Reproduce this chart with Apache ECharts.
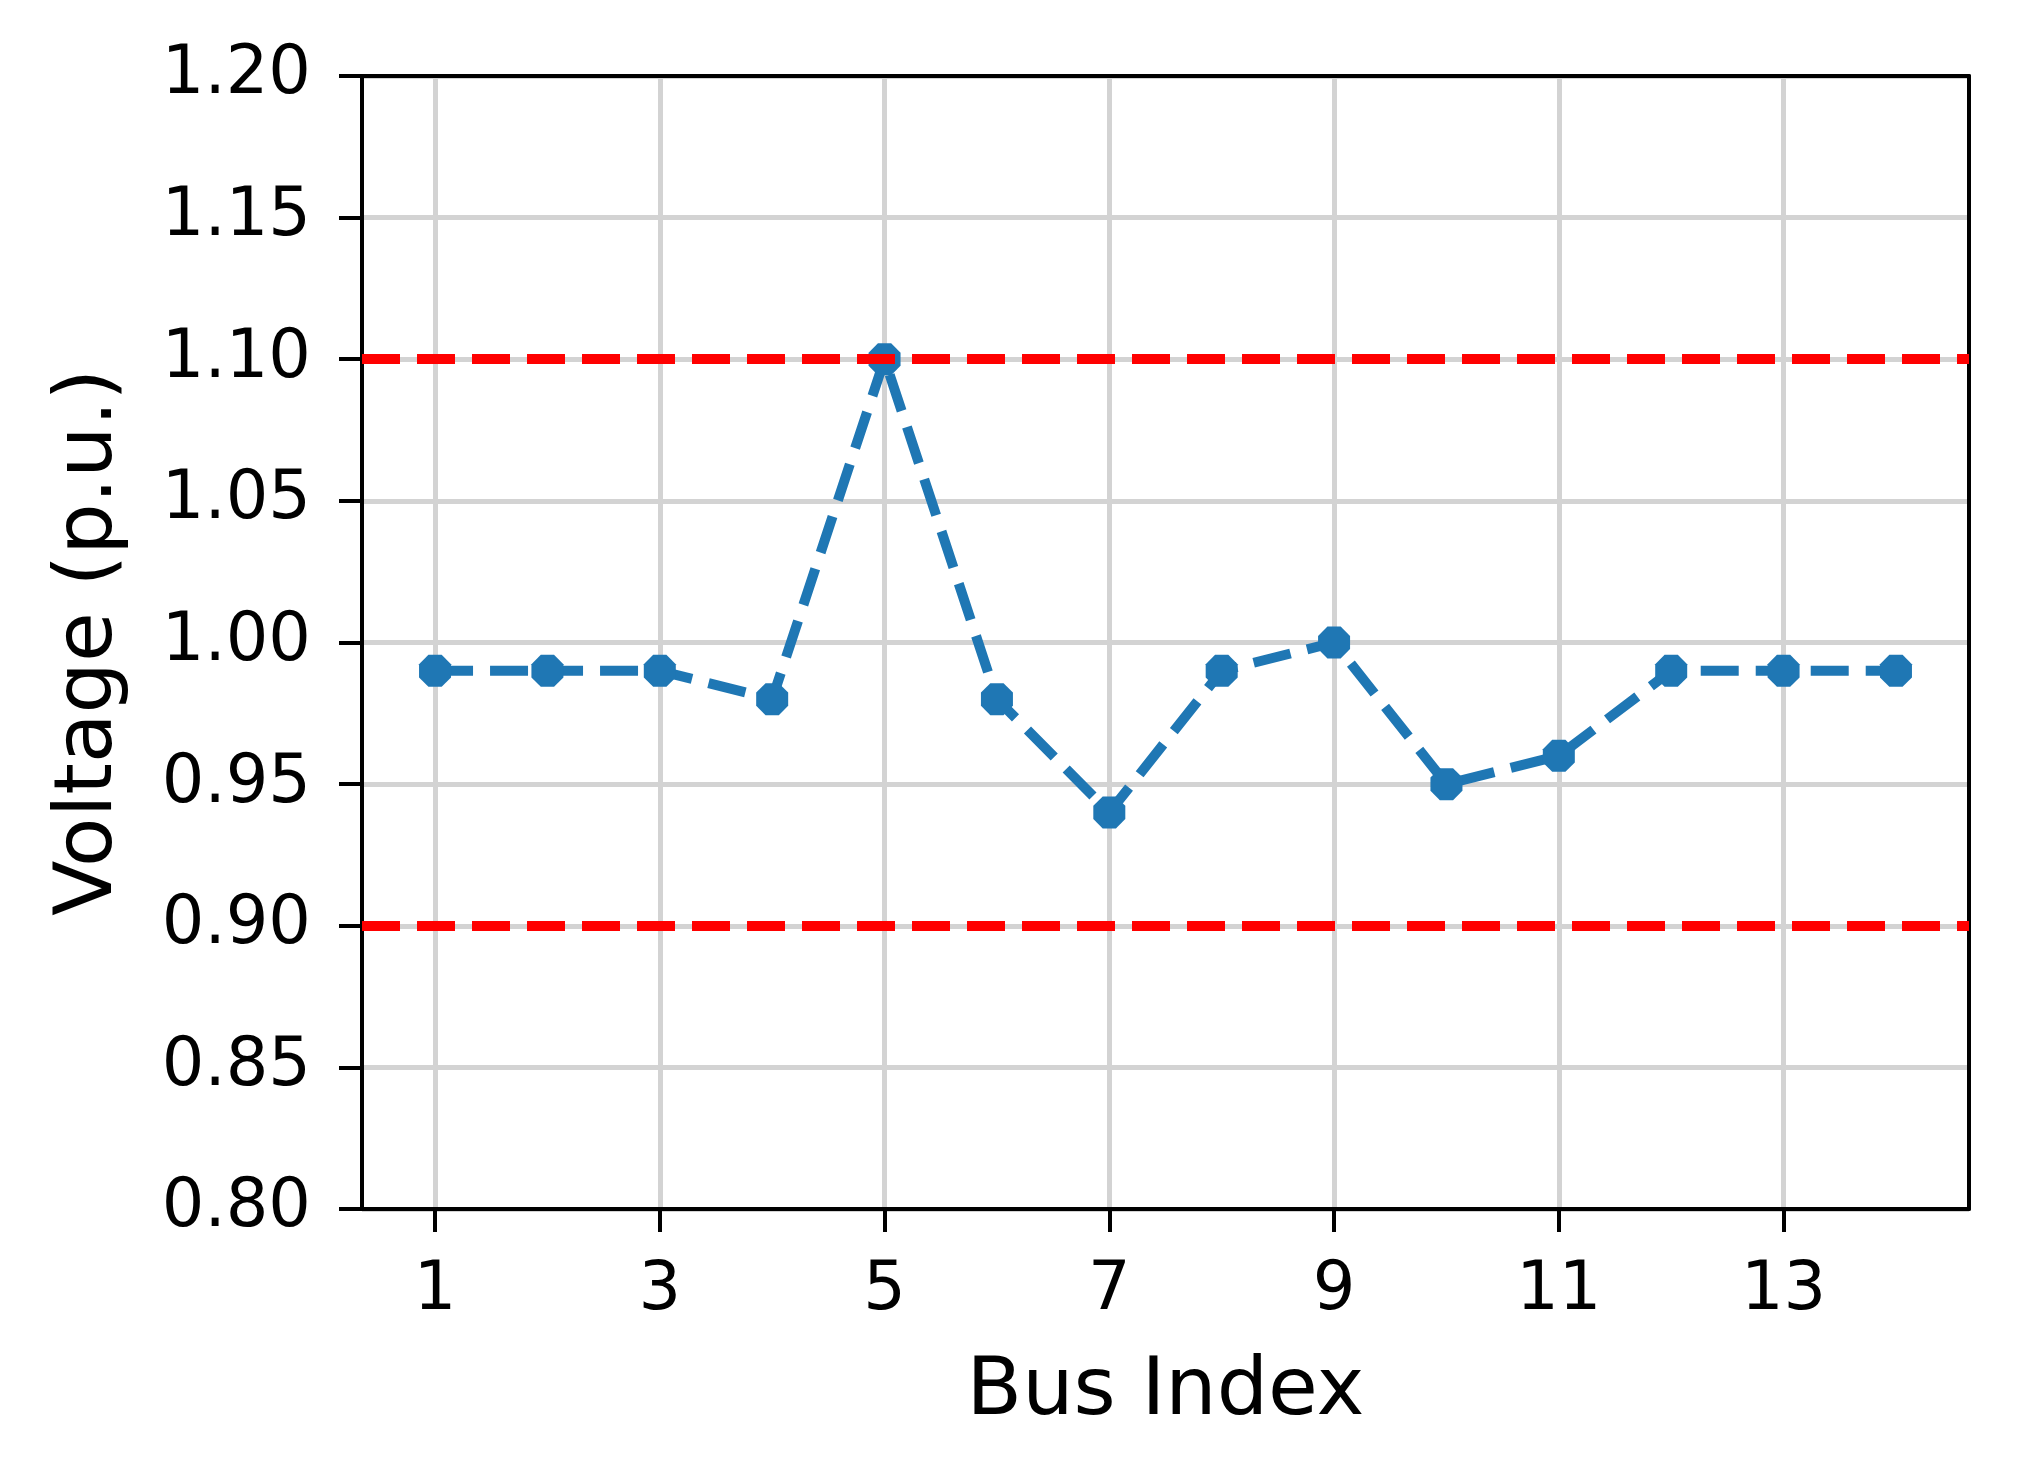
<!DOCTYPE html>
<html>
<head>
<meta charset="utf-8">
<script src="https://cdn.jsdelivr.net/npm/echarts@6/dist/echarts.min.js"></script>
<style>
  html, body { margin: 0; padding: 0; background: #fff; }
  #chart { width: 2019px; height: 1483px; }
</style>
</head>
<body>
<div id="chart"></div>
<script>
// bus numbers and voltages
const busIndex = [1, 2, 3, 4, 5, 6, 7, 8, 9, 10, 11, 12, 13, 14];
const voltage = [0.99, 0.99, 0.99, 0.98, 1.10, 0.98, 0.94, 0.99, 1.00, 0.95, 0.96, 0.99, 0.99, 0.99];
const xTicks = [1, 3, 5, 7, 9, 11, 13];
const limits = [1.10, 0.90];

const font = 'DejaVu Sans';
// octagon marker like matplotlib's rasterised dot
const octagon = 'path://M69,4 L96,31 L96,69 L69,96 L31,96 L4,69 L4,31 L31,4 Z';

const spine = { show: true, onZero: false, lineStyle: { color: '#000', width: 4 } };
const xRange = { min: 0.35, max: 14.65 };
const yRange = { min: 0.8, max: 1.2 };

const chart = echarts.init(document.getElementById('chart'), null, { renderer: 'canvas' });

chart.setOption({
  animation: false,
  textStyle: { fontFamily: font },
  grid: {
    left: 362, top: 76, right: 50, bottom: 274,
    containLabel: false,
    outerBoundsMode: 'none'
  },
  xAxis: [
    {
      type: 'value',
      ...xRange,
      name: 'Bus Index',
      nameLocation: 'middle',
      nameGap: 143,
      nameTextStyle: { fontSize: 81, color: '#000', fontFamily: font },
      axisLine: spine,
      axisTick: { show: true, inside: false, length: 23, customValues: xTicks, lineStyle: { color: '#000', width: 4 } },
      axisLabel: { customValues: xTicks, fontSize: 67, color: '#000', margin: 49, fontFamily: font },
      splitLine: { show: true, lineStyle: { color: '#d3d3d3', width: 5 } }
    },
    {
      // top spine
      type: 'value', position: 'top', ...xRange,
      axisLine: spine, axisTick: { show: false }, axisLabel: { show: false }, splitLine: { show: false }
    }
  ],
  yAxis: [
    {
      type: 'value',
      ...yRange,
      interval: 0.05,
      name: 'Voltage (p.u.)',
      nameLocation: 'middle',
      nameGap: 232,
      nameTextStyle: { fontSize: 81, color: '#000', fontFamily: font },
      axisLine: spine,
      axisTick: { show: true, inside: false, length: 23, lineStyle: { color: '#000', width: 4 } },
      axisLabel: {
        fontSize: 67, color: '#000', margin: 51, fontFamily: font,
        formatter: v => v.toFixed(2)
      },
      splitLine: { show: true, lineStyle: { color: '#d3d3d3', width: 5 } }
    },
    {
      // right spine
      type: 'value', position: 'right', ...yRange,
      axisLine: spine, axisTick: { show: false }, axisLabel: { show: false }, splitLine: { show: false }
    }
  ],
  series: [
    {
      // voltage limits
      type: 'line',
      data: [],
      z: 2,
      markLine: {
        silent: true,
        symbol: 'none',
        label: { show: false },
        lineStyle: { color: '#ff0000', width: 10, type: [38, 17], opacity: 1 },
        data: limits.map(v => ({ yAxis: v }))
      }
    },
    {
      type: 'line',
      z: 3,
      data: busIndex.map((b, i) => [b, voltage[i]]),
      symbol: octagon,
      symbolSize: 32,
      showSymbol: true,
      itemStyle: { color: '#1f77b4' },
      lineStyle: { color: '#1f77b4', width: 10, type: [38, 17] }
    }
  ]
});
</script>
</body>
</html>
